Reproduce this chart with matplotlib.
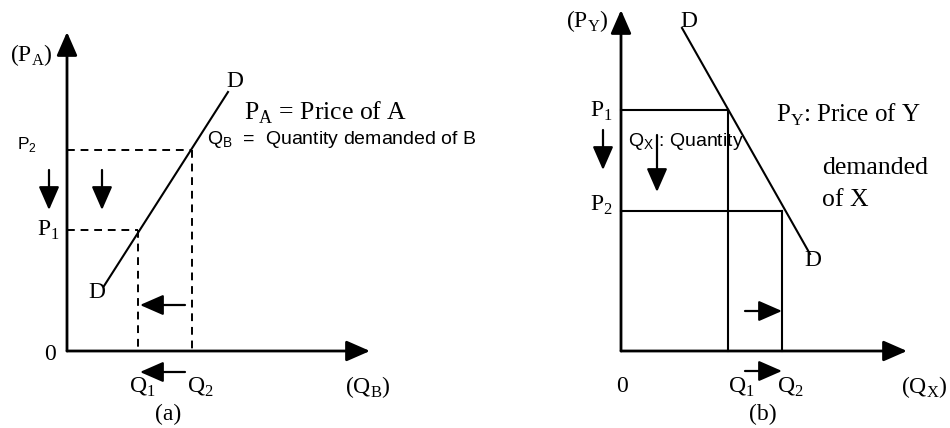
import matplotlib.pyplot as plt

plt.rcParams['mathtext.fontset'] = 'custom'
plt.rcParams['mathtext.rm'] = 'Liberation Serif'
plt.rcParams['mathtext.sf'] = 'Liberation Sans'

SERIF = 'Liberation Serif'
SANS = 'Liberation Sans'

# panel (a): complements, pixel-like coordinates of the sketch
a_origin = (67, 351)
a_ytop = 32
a_xend = 370
a_demand_x = [104, 228]
a_demand_y = [286, 92]
a_price_y = [230, 150]      # P1, P2
a_qty_x = [138, 192]        # Q1, Q2

# panel (b): substitutes
b_origin = (621, 351)
b_ytop = 10
b_xend = 907
b_demand_x = [682, 810]
b_demand_y = [28, 254]
b_price_y = [110, 211]      # P1, P2
b_qty_x = [728, 782]        # Q1, Q2

fig = plt.figure(figsize=(9.5, 4.28), dpi=100)
ax = fig.add_axes([0, 0, 1, 1])
ax.set_xlim(0, 950)
ax.set_ylim(428, 0)
ax.axis('off')


def arrow(x0, y0, x1, y1, lw=1.6, size=18):
    ax.annotate('', xy=(x1, y1), xytext=(x0, y0),
                arrowprops=dict(arrowstyle='-|>,head_length=0.8,head_width=0.35',
                                mutation_scale=size, lw=lw, color='k',
                                shrinkA=0, shrinkB=0))


def serif(x, y, s, size=17, **kw):
    ax.text(x, y, s, family=SERIF, fontsize=size, ha=kw.pop('ha', 'center'),
            va=kw.pop('va', 'center'), **kw)


def sans(x, y, s, size=14, **kw):
    ax.text(x, y, s, family=SANS, fontsize=size, ha=kw.pop('ha', 'center'),
            va=kw.pop('va', 'center'), **kw)


# ---- panel (a) ----
ox, oy = a_origin
arrow(ox, oy, ox, a_ytop, lw=2)
arrow(ox, oy, a_xend, oy, lw=2)
ax.plot(a_demand_x, a_demand_y, color='k', lw=1.5)
for px, py in zip(a_qty_x, a_price_y):
    ax.plot([ox, px], [py, py], color='k', lw=1.4, ls=(0, (4, 3)))
    ax.plot([px, px], [py, oy], color='k', lw=1.4, ls=(0, (4, 3)))

arrow(49, 170, 49, 210)
arrow(102, 170, 102, 210)
arrow(185, 305, 140, 305)
arrow(185, 372, 140, 372)

serif(31, 55, r'(P$_\mathrm{A}$)')
serif(235, 81, 'D')
serif(97, 292, 'D')
sans(27, 145, r'P$_\mathsf{2}$', size=12.5)
serif(48, 230, r'P$_\mathrm{1}$')
serif(50, 354, '0')
serif(142, 387, r'Q$_\mathrm{1}$')
serif(200, 387, r'Q$_\mathrm{2}$')
serif(368, 387, r'(Q$_\mathrm{B}$)')
serif(168, 414, '(a)')
serif(244, 113, r'P$_\mathrm{A}$ = Price of A', size=18.5, ha='left')
sans(207, 140, r'Q$_\mathsf{B}$  =  Quantity demanded of B', ha='left')

# ---- panel (b) ----
ox, oy = b_origin
arrow(ox, oy, ox, b_ytop, lw=2)
arrow(ox, oy, b_xend, oy, lw=2)
ax.plot(b_demand_x, b_demand_y, color='k', lw=1.5)
for px, py in zip(b_qty_x, b_price_y):
    ax.plot([ox, px], [py, py], color='k', lw=1.5)
    ax.plot([px, px], [py, oy], color='k', lw=1.5)

arrow(603, 130, 603, 170)
arrow(657, 135, 657, 192)
arrow(745, 311, 782, 311)
arrow(745, 371, 782, 371)

serif(587, 21, r'(P$_\mathrm{Y}$)')
serif(689, 21, 'D')
serif(813, 261, 'D')
serif(601, 111, r'P$_\mathrm{1}$')
serif(601, 205, r'P$_\mathrm{2}$')
sans(628, 142, r'Q$_\mathsf{X}$ : Quantity', ha='left')
serif(776, 115, r'P$_\mathrm{Y}$: Price of Y', size=18, ha='left')
serif(822, 168, 'demanded', size=18.5, ha='left')
serif(822, 200, 'of X', size=18.5, ha='left')
serif(622, 387, '0')
serif(741, 387, r'Q$_\mathrm{1}$')
serif(790, 387, r'Q$_\mathrm{2}$')
serif(924, 387, r'(Q$_\mathrm{X}$)')
serif(763, 414, '(b)')

fig.savefig('out.png', dpi=100)
